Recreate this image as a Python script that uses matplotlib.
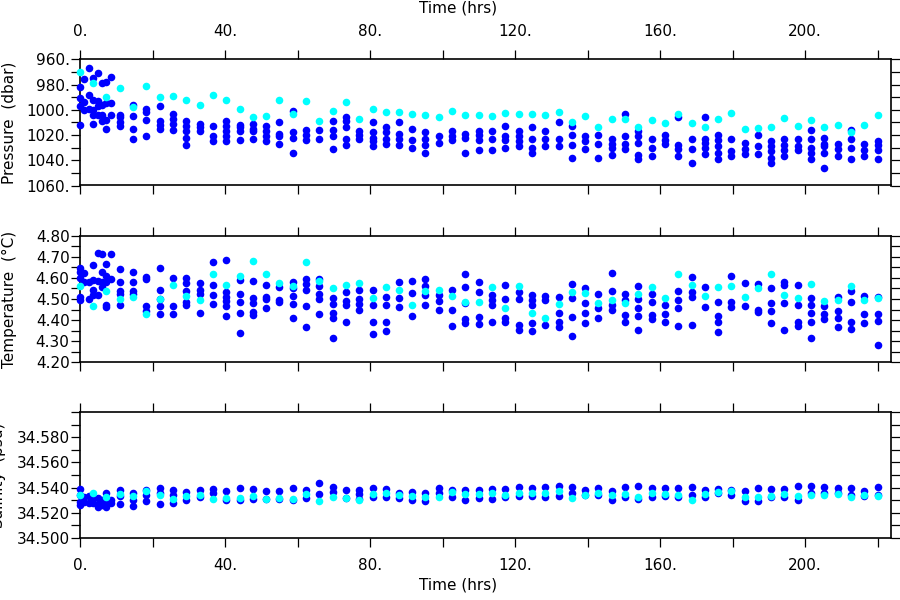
import numpy as np
import matplotlib
matplotlib.use("Agg")
import matplotlib.pyplot as plt
from matplotlib.ticker import FixedLocator, MultipleLocator

nan = float("nan")

# sample times (hrs)
times = [0.0, 1.2, 2.4, 3.7, 4.9, 6.1, 7.3, 8.6,
         11.0, 14.7, 18.3, 22.0, 25.7, 29.3, 33.0, 36.7, 40.3, 44.0,
         47.7, 51.3, 55.0, 58.7, 62.3, 66.0, 69.7, 73.3, 77.0, 80.7,
         84.3, 88.0, 91.7, 95.3, 99.0, 102.7, 106.3, 110.0, 113.7, 117.3,
         121.0, 124.7, 128.3, 132.0, 135.7, 139.3, 143.0, 146.7, 150.3, 154.0,
         157.7, 161.3, 165.0, 168.7, 172.3, 176.0, 179.7, 183.3, 187.0, 190.7,
         194.3, 198.0, 201.7, 205.3, 209.0, 212.7, 216.3, 220.0]

# pressure (dbar)
pres_blue = [
    [982, 991, 997, 1012], [976, 994, 1000], [967, 988, 999],
    [975, 992, 1000, 1004, 1011], [971, 993, 997, 1004], [979, 996, 1004, 1009],
    [978, 995, 1008, 1015], [974, 995, 1004],
    [1004, 1006, 1010, 1013], [996, 1005, 1015, 1023], [999, 1002, 1008, 1021],
    [997, 1009, 1012, 1015], [1003, 1007, 1011, 1016], [1009, 1013, 1017, 1022, 1028],
    [1011, 1014, 1017], [1013, 1021, 1025], [1009, 1013, 1017, 1021, 1025],
    [1012, 1014, 1017, 1024], [1011, 1015, 1017, 1023], [1013, 1017, 1021, 1025],
    [1010, 1019, 1021, 1027], [1001, 1018, 1022, 1034], [1016, 1020, 1024],
    [1016, 1023], [1009, 1016, 1021, 1031], [1006, 1009, 1014, 1023, 1028],
    [1017, 1020, 1023], [1010, 1018, 1022, 1025, 1029], [1014, 1018, 1023, 1027],
    [1010, 1019, 1023, 1028], [1015, 1024, 1030], [1018, 1023, 1028, 1034],
    [1021, 1026], [1017, 1021, 1024], [1019, 1022, 1034],
    [1017, 1020, 1024, 1032], [1017, 1023, 1032], [1013, 1021, 1024, 1030],
    [1017, 1021, 1025, 1029], [1014, 1023, 1030, 1034], [1017, 1023, 1029],
    [1010, 1023, 1029], [1013, 1020, 1028, 1038], [1021, 1025, 1031],
    [1020, 1027, 1038], [1023, 1027, 1030, 1036], [1003, 1021, 1027, 1031],
    [1017, 1021, 1026, 1036, 1039], [1023, 1030, 1037], [1020, 1024, 1027],
    [1006, 1028, 1031, 1037], [1023, 1031, 1042], [1006, 1023, 1026, 1030, 1035],
    [1020, 1024, 1029, 1034, 1039], [1023, 1033, 1037], [1026, 1031, 1035],
    [1020, 1029, 1035], [1025, 1029, 1033, 1038, 1042], [1023, 1028, 1032, 1037],
    [1023, 1029, 1032], [1016, 1023, 1030, 1034, 1039], [1022, 1027, 1029, 1034, 1046],
    [1027, 1031, 1037], [1016, 1023, 1030, 1039], [1027, 1032, 1037],
    [1025, 1028, 1032, 1039],
]
pres_cyan = [970, nan, nan, 979, nan, nan, 990, nan,
             982.5, 997.6, 981, 990, 989, 992, 996.5, 988, 992, 999,
             1006, 1005, 992, 1003, 993, 1008.6, 1001, 994, 1007, 999,
             1001.5, 1001.5, 1003, 1004.4, 1006, 1001, 1004, 1004.4, 1005, 1002.3,
             1003, 1003, 1004.4, 1001.5, 1009.7, 1005, 1014, 1007, 1007.3, 1013.4,
             1008.4, 1010.2, 1003.3, 1010.2, 1013.4, 1007.6, 1002.8, 1015.5, 1014.7, 1013.4,
             1006.8, 1012.6, 1008.4, 1013.4, 1012.1, 1017.3, 1012.3, 1004.4]

# temperature (C)
temp_blue = [
    [4.645, 4.63, 4.60, 4.51, 4.495], [4.625, 4.58], [4.58, 4.50],
    [4.66, 4.59, 4.545, 4.52], [4.72, 4.585, 4.52], [4.715, 4.63, 4.58, 4.555],
    [4.665, 4.61, 4.58, 4.47, 4.46], [4.715, 4.595],
    [4.64, 4.58, 4.54, 4.525, 4.47], [4.63, 4.58, 4.54, 4.525], [4.605, 4.595, 4.465, 4.445],
    [4.645, 4.545, 4.50, 4.465, 4.43], [4.60, 4.465, 4.43], [4.60, 4.575, 4.54, 4.485, 4.47],
    [4.575, 4.545, 4.525, 4.435], [4.675, 4.565, 4.52, 4.475], [4.685, 4.535, 4.51, 4.49, 4.465, 4.42],
    [4.59, 4.525, 4.485, 4.435, 4.34], [4.585, 4.505, 4.48, 4.44, 4.425], [4.565, 4.51, 4.50, 4.455],
    [4.555, 4.495, 4.485], [4.58, 4.55, 4.515, 4.475, 4.41], [4.595, 4.57, 4.545, 4.465, 4.365],
    [4.595, 4.56, 4.525, 4.50, 4.43], [4.505, 4.475, 4.435, 4.41, 4.315], [4.535, 4.49, 4.47, 4.39],
    [4.545, 4.50, 4.475, 4.45], [4.545, 4.47, 4.39, 4.335], [4.51, 4.47, 4.39, 4.35],
    [4.58, 4.505, 4.46], [4.585, 4.53, 4.42], [4.595, 4.56, 4.52, 4.47],
    [4.52, 4.49, 4.45], [4.545, 4.45, 4.37], [4.62, 4.555, 4.48, 4.405, 4.385],
    [4.58, 4.535, 4.415, 4.38], [4.52, 4.495, 4.47, 4.39], [4.565, 4.50, 4.41, 4.39],
    [4.535, 4.50, 4.375, 4.355], [4.52, 4.495, 4.47, 4.385, 4.35], [4.515, 4.495, 4.375],
    [4.51, 4.435, 4.39, 4.365], [4.57, 4.505, 4.415, 4.325], [4.55, 4.48, 4.435, 4.385],
    [4.525, 4.455, 4.41], [4.625, 4.54, 4.47, 4.45], [4.525, 4.495, 4.425, 4.39],
    [4.56, 4.50, 4.455, 4.42, 4.355], [4.525, 4.485, 4.425, 4.405], [4.47, 4.43, 4.39],
    [4.54, 4.495, 4.455, 4.37], [4.605, 4.535, 4.51, 4.375], [4.555, 4.46],
    [4.485, 4.42, 4.39, 4.345], [4.61, 4.485, 4.46], [4.575, 4.465],
    [4.57, 4.45, 4.44], [4.55, 4.48, 4.445, 4.385], [4.58, 4.565, 4.48, 4.355],
    [4.565, 4.47, 4.39, 4.37], [4.505, 4.47, 4.435, 4.39, 4.315], [4.465, 4.43, 4.405],
    [4.51, 4.445, 4.41, 4.365], [4.54, 4.485, 4.39, 4.36], [4.515, 4.43, 4.385],
    [4.51, 4.43, 4.395, 4.28],
]
temp_cyan = [4.56, nan, nan, 4.465, nan, nan, 4.54, nan,
             4.50, 4.51, 4.43, 4.50, 4.565, 4.515, 4.495, 4.62, 4.565, 4.61,
             4.68, 4.62, 4.575, 4.56, 4.675, 4.585, 4.55, 4.565, 4.575, 4.505,
             4.555, 4.545, 4.47, 4.54, 4.545, 4.515, 4.485, 4.485, 4.555, 4.455,
             4.56, 4.435, 4.41, 4.475, 4.535, 4.53, 4.48, 4.495, 4.48, 4.525,
             4.555, 4.505, 4.62, 4.565, 4.515, 4.555, 4.56, 4.51, 4.55, 4.62,
             4.52, 4.505, 4.57, 4.49, 4.495, 4.56, 4.495, 4.505]

# salinity (psu)
sal_blue = [
    [34.5386, 34.534, 34.5287, 34.526], [34.5327, 34.5287], [34.5333, 34.5274],
    [34.5314, 34.5274], [34.5314, 34.526, 34.5242], [34.530, 34.526],
    [34.536, 34.5274, 34.5242], [34.530, 34.5274],
    [34.538, 34.533, 34.527], [34.5354, 34.530, 34.525], [34.538, 34.534, 34.529],
    [34.540, 34.5354, 34.527], [34.538, 34.534, 34.5274], [34.5367, 34.530],
    [34.538, 34.5327], [34.5386, 34.5354], [34.5375, 34.530],
    [34.5394, 34.530], [34.5386, 34.5306], [34.5375, 34.5306],
    [34.5375, 34.5306], [34.5394, 34.530], [34.538, 34.5314],
    [34.5439, 34.5348], [34.5402, 34.5367], [34.538, 34.5314],
    [34.538, 34.5348, 34.5306], [34.5394, 34.5327], [34.5386, 34.5322],
    [34.5359, 34.5314], [34.5367, 34.530], [34.5354, 34.5295],
    [34.5394, 34.5354], [34.538, 34.5322], [34.538, 34.530],
    [34.538, 34.5314], [34.5386, 34.5306], [34.5386, 34.5327],
    [34.5407, 34.5332], [34.5394, 34.5332], [34.5402, 34.5327],
    [34.5412, 34.5332], [34.5402, 34.5354], [34.538, 34.534],
    [34.5394, 34.534], [34.5375, 34.530], [34.5402, 34.5327],
    [34.5412, 34.5306], [34.5394, 34.5327], [34.5394, 34.5332],
    [34.5394, 34.5322], [34.5402, 34.534], [34.538, 34.5322],
    [34.5386, 34.5354], [34.538, 34.534], [34.5375, 34.5295],
    [34.5394, 34.5295], [34.5386, 34.5322], [34.5386, 34.5322],
    [34.5412, 34.530], [34.5412, 34.5359], [34.5402, 34.5354],
    [34.5394, 34.5354], [34.5394, 34.534], [34.5375, 34.5332],
    [34.5407, 34.534],
]
sal_cyan = [34.534, nan, nan, 34.5355, nan, nan, 34.5327, nan,
            34.535, 34.533, 34.5375, 34.534, 34.531, 34.533, 34.534, 34.531, 34.532, 34.532,
            34.533, 34.531, 34.532, 34.531, 34.5348, 34.5295, 34.5327, 34.532, 34.530, 34.5348,
            34.5354, 34.534, 34.5332, 34.5322, 34.5322, 34.5367, 34.5348, 34.5348, 34.5354, 34.534,
            34.5359, 34.5359, 34.5359, 34.5375, 34.5314, 34.534, 34.5354, 34.534, 34.5348, 34.5327,
            34.5354, 34.5348, 34.534, 34.530, 34.5348, 34.5367, 34.5375, 34.5327, 34.5322, 34.5332,
            34.5348, 34.5332, 34.534, 34.534, 34.5348, 34.5322, 34.5338, 34.5332]

x_ticks = [0, 20, 40, 60, 80, 100, 120, 140, 160, 180, 200, 220]
x_tick_labels = ["0.", "", "40.", "", "80.", "", "120.", "", "160.", "", "200.", ""]
pres_ticks = [960, 980, 1000, 1020, 1040, 1060]
pres_tick_labels = ["960.", "980.", "1000.", "1020.", "1040.", "1060."]
temp_ticks = [4.2, 4.3, 4.4, 4.5, 4.6, 4.7, 4.8]
temp_tick_labels = ["4.20", "4.30", "4.40", "4.50", "4.60", "4.70", "4.80"]
sal_ticks = [34.50, 34.52, 34.54, 34.56, 34.58]
sal_tick_labels = ["34.500", "34.520", "34.540", "34.560", "34.580"]

BLUE = "#0000ff"
CYAN = "#00ffff"
FS = 11


def flatten(values):
    xs, ys = [], []
    for t, col in zip(times, values):
        xs.extend([t] * len(col))
        ys.extend(col)
    return xs, ys


def draw_panel(ax, blue, cyan, ylim, ticks, labels, minor):
    bx, by = flatten(blue)
    ax.scatter(bx, by, s=30, color=BLUE, linewidths=0, zorder=3, clip_on=False)
    ax.scatter(times, cyan, s=30, color=CYAN, linewidths=0, zorder=4, clip_on=False)

    ax.set_xlim(0, 223.7)
    ax.set_ylim(*ylim)
    ax.xaxis.set_major_locator(FixedLocator(x_ticks))
    ax.set_xticklabels(x_tick_labels)
    ax.yaxis.set_major_locator(FixedLocator(ticks))
    ax.set_yticklabels(labels)
    ax.yaxis.set_minor_locator(MultipleLocator(minor))
    ax.tick_params(which="both", direction="out", length=6.5, width=0.9,
                   top=True, right=True, labelsize=FS, pad=1, colors="black")
    ax.tick_params(axis="x", pad=8, labelbottom=False)
    for sp in ax.spines.values():
        sp.set_linewidth(1.2)


def main():
    fig = plt.figure(figsize=(9, 6), dpi=100)
    plt.rcParams["font.family"] = ["DejaVu Sans"]

    left, width = 80 / 900, 811 / 900
    ax1 = fig.add_axes([left, 1 - 185.5 / 600, width, 126.2 / 600])
    ax2 = fig.add_axes([left, 1 - 362.3 / 600, width, 126.6 / 600])
    ax3 = fig.add_axes([left, 1 - 537.7 / 600, width, 125.4 / 600])

    draw_panel(ax1, pres_blue, pres_cyan, (1060, 960), pres_ticks, pres_tick_labels, 10)
    draw_panel(ax2, temp_blue, temp_cyan, (4.2, 4.8), temp_ticks, temp_tick_labels, 0.05)
    draw_panel(ax3, sal_blue, sal_cyan, (34.5, 34.6), sal_ticks, sal_tick_labels, 0.01)

    ax1.tick_params(axis="x", labeltop=True)
    ax3.tick_params(axis="x", labelbottom=True)

    # axis titles (salinity one sits partly past the left edge, as in the original)
    fig.text(458 / 900, 1 - 8 / 600, "Time (hrs)", ha="center", va="center", fontsize=FS)
    fig.text(458 / 900, 1 - 585 / 600, "Time (hrs)", ha="center", va="center", fontsize=FS)
    fig.text(9.5 / 900, 1 - 122.4 / 600, "Pressure  (dbar)", rotation=90,
             ha="center", va="center", fontsize=FS)
    fig.text(9.5 / 900, 1 - 299 / 600, "Temperature  (\u00b0C)", rotation=90,
             ha="center", va="center", fontsize=FS)
    fig.text(-1 / 900, 1 - 475 / 600, "Salinity  (psu)", rotation=90,
             ha="center", va="center", fontsize=FS)

    fig.savefig("out.png", dpi=100)
    plt.close(fig)


if __name__ == "__main__":
    main()
